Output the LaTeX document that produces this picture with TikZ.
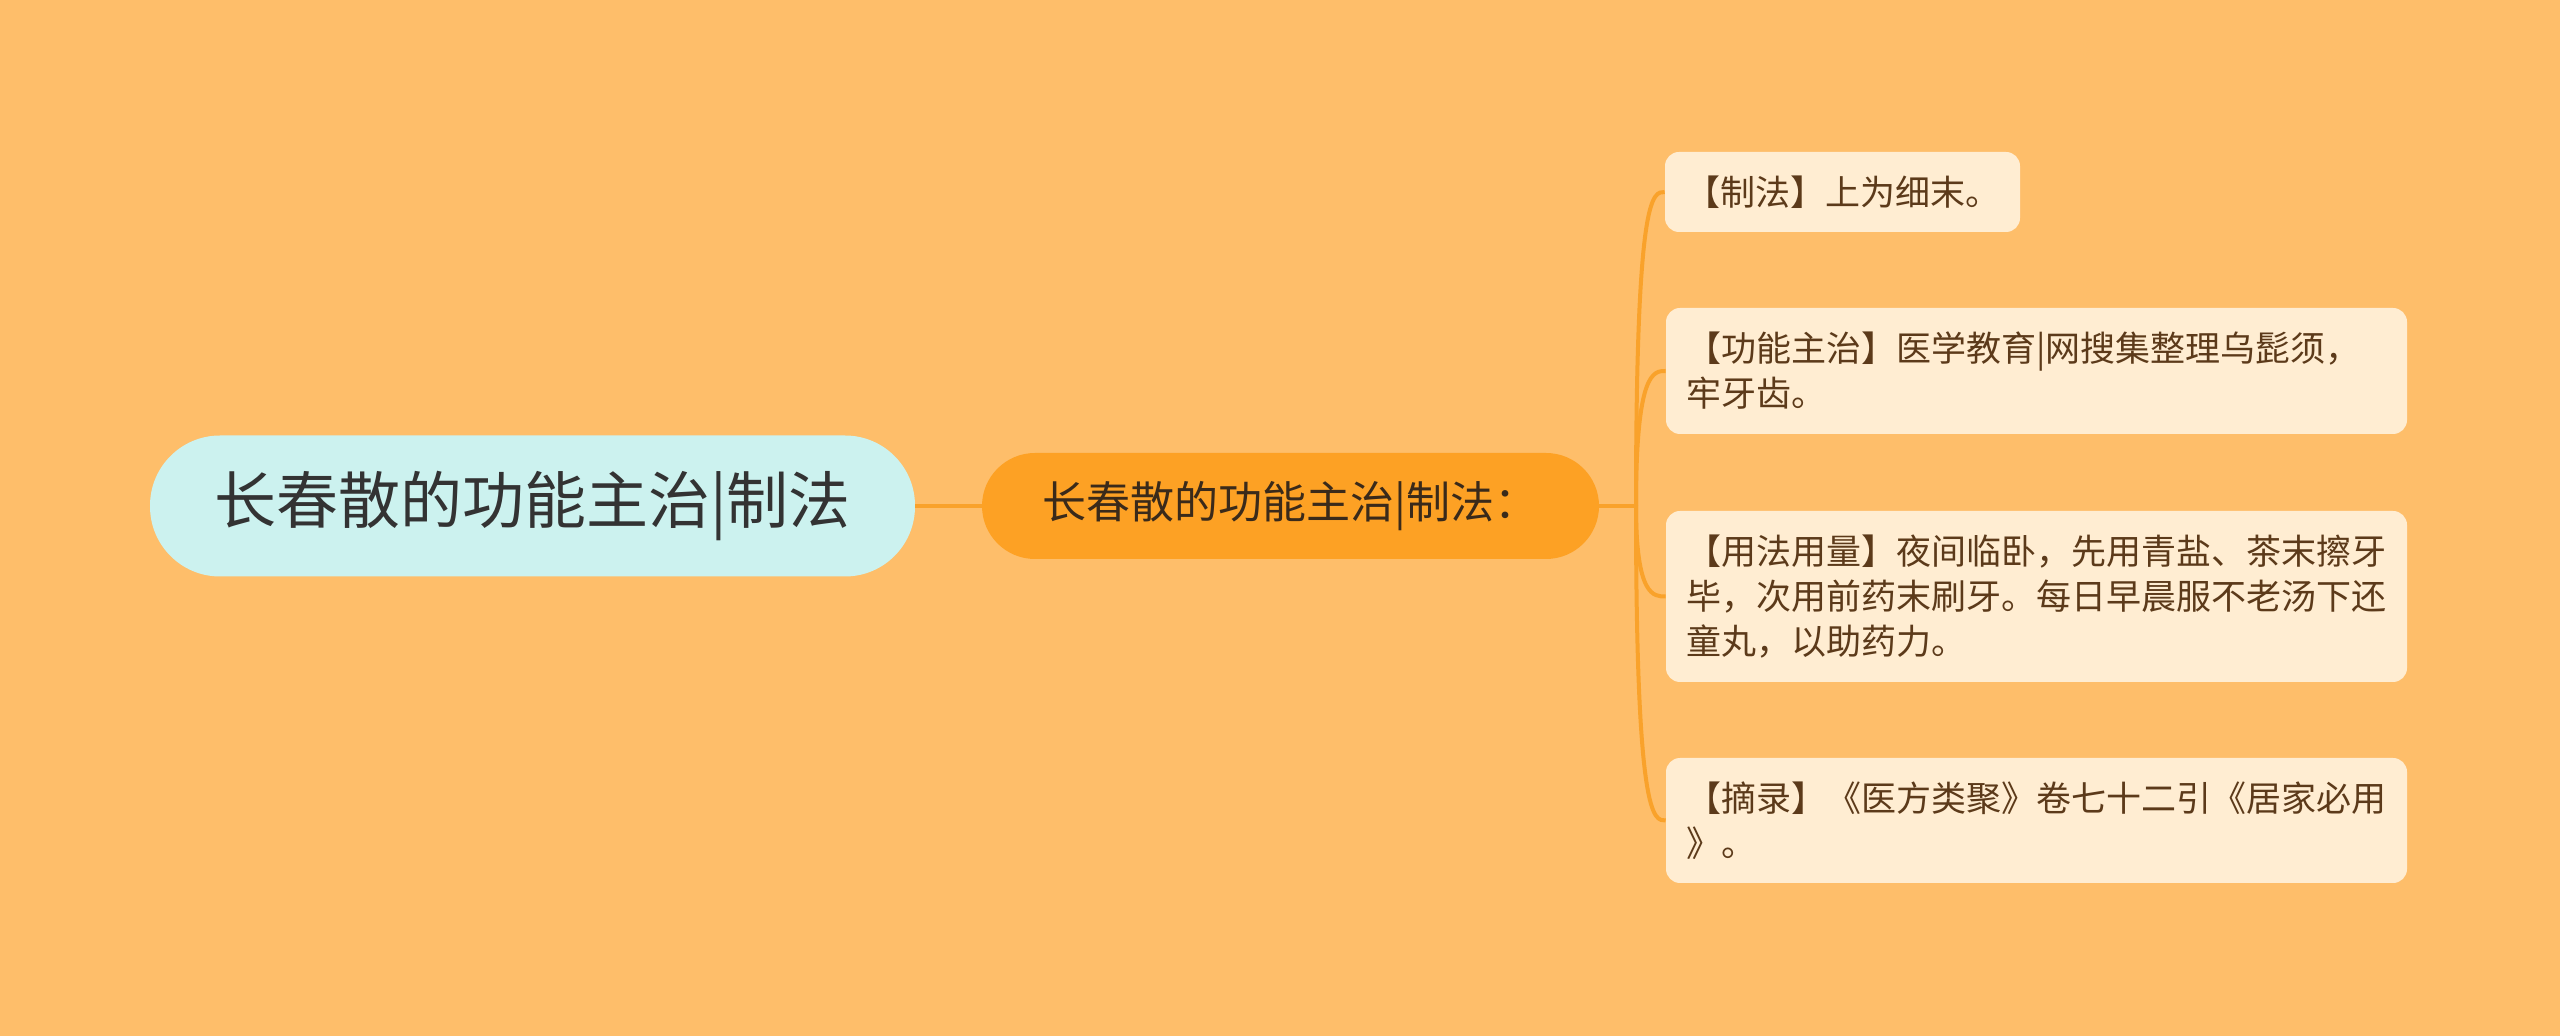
\documentclass[tikz,border=0pt]{standalone}
\usepackage{fontspec}
\setmainfont{Noto Sans CJK SC}
\definecolor{bg}{HTML}{FEBE6A}
\definecolor{rootfill}{HTML}{CCF2EF}
\definecolor{midfill}{HTML}{FDA124}
\definecolor{leaffill}{HTML}{FFEDD2}
\definecolor{linec}{HTML}{F9A22B}
\definecolor{roottext}{HTML}{333333}
\definecolor{midtext}{HTML}{3A2A1A}
\definecolor{leaftext}{HTML}{5C3A1A}
\tikzset{
  rootnode/.style={fill=rootfill, rounded corners=35pt, minimum width=382.5pt, minimum height=70.5pt, inner sep=0pt, text=roottext, font=\fontsize{31pt}{38pt}\selectfont},
  midnode/.style={fill=midfill, rounded corners=26.5pt, minimum width=308.5pt, minimum height=53pt, inner sep=0pt, text=midtext, font=\fontsize{22pt}{27pt}\selectfont},
  leafnode/.style={fill=leaffill, rounded corners=7pt, inner xsep=10pt, inner ysep=0pt, text=leaftext, align=left, font=\fontsize{17.5pt}{22.5pt}\selectfont},
  conn/.style={draw=linec, line width=2pt},
}
\begin{document}
\begin{tikzpicture}[x=0.5pt,y=-0.5pt]
\fill[bg] (0,0) rectangle (2560,1036);
\useasboundingbox (0,0) rectangle (2560,1036);
\node[rootnode] (root) at (532.5,506) {长春散的功能主治|制法};
\node[midnode] (mid) at (1290.5,506) {长春散的功能主治|制法：};
\node[leafnode, minimum width=176.5pt, minimum height=40pt] (l1) at (1842.5,192) {【制法】上为细末。};
\node[leafnode, text width=350.5pt, minimum height=63pt] (l2) at (2036.5,371) {【功能主治】医学教育|网搜集整理乌髭须，\\牢牙齿。};
\node[leafnode, text width=350.5pt, minimum height=85.5pt] (l3) at (2036.5,596.5) {【用法用量】夜间临卧，先用青盐、茶末擦牙\\毕，次用前药末刷牙。每日早晨服不老汤下还\\童丸，以助药力。};
\node[leafnode, text width=350.5pt, minimum height=62.5pt] (l4) at (2036.5,820.5) {【摘录】《医方类聚》卷七十二引《居家必用\\》。};
\coordinate (b) at (1636,506);
\draw[conn] (root.east) -- (mid.west);
\draw[conn] (mid.east) -- (b);
\foreach \n in {l1,l2,l3,l4}{
  \draw[conn] (b) .. controls (b |- \n.west) and ([xshift=-6pt]\n.west) .. (\n.west);
}
\end{tikzpicture}
\end{document}
